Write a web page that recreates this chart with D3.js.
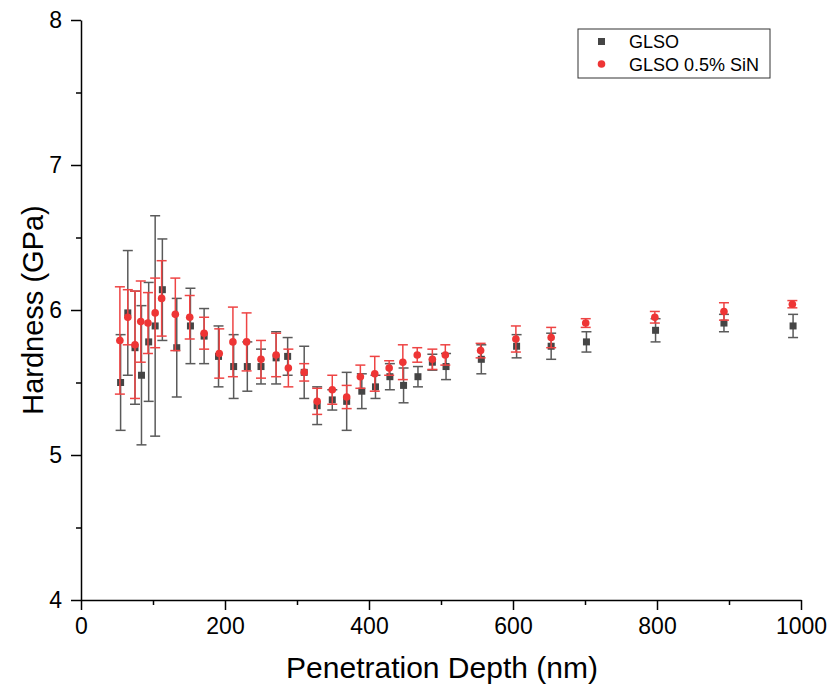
<!DOCTYPE html>
<html>
<head>
<meta charset="utf-8">
<script src="https://cdn.jsdelivr.net/npm/d3@7"></script>
<style>
  body { margin: 0; background: #fff; }
  text { font-family: "Liberation Sans", Arial, sans-serif; }
</style>
</head>
<body>
<div id="chart"></div>
<script>
// GLSO
const glsoDepth = [55, 65, 75, 84, 94, 103, 113, 133, 152, 171, 191, 212, 231, 250, 271, 287, 310, 328, 349, 369, 390, 409, 429, 448, 468, 488, 507, 556, 605, 653, 702, 798, 893, 989];
const glsoHard  = [5.50, 5.98, 5.74, 5.55, 5.78, 5.89, 6.14, 5.74, 5.89, 5.82, 5.68, 5.61, 5.61, 5.61, 5.67, 5.68, 5.57, 5.34, 5.38, 5.37, 5.44, 5.47, 5.54, 5.48, 5.54, 5.64, 5.61, 5.66, 5.75, 5.75, 5.78, 5.86, 5.91, 5.89];
const glsoErr   = [0.33, 0.43, 0.39, 0.48, 0.41, 0.76, 0.35, 0.34, 0.26, 0.19, 0.21, 0.22, 0.17, 0.12, 0.18, 0.13, 0.18, 0.13, 0.07, 0.20, 0.12, 0.08, 0.09, 0.12, 0.07, 0.055, 0.09, 0.10, 0.08, 0.09, 0.07, 0.08, 0.06, 0.08];

// GLSO 0.5% SiN
const sinDepth = [54, 65, 75, 83, 93, 103, 112, 131, 151, 171, 192, 211, 230, 250, 271, 288, 310, 328, 349, 369, 388, 408, 428, 447, 467, 488, 506, 555, 604, 653, 701, 797, 893, 988];
const sinHard  = [5.79, 5.95, 5.76, 5.92, 5.91, 5.98, 6.08, 5.97, 5.95, 5.84, 5.70, 5.78, 5.78, 5.66, 5.69, 5.60, 5.57, 5.37, 5.45, 5.40, 5.54, 5.56, 5.60, 5.64, 5.69, 5.66, 5.69, 5.72, 5.80, 5.81, 5.91, 5.95, 5.99, 6.04];
const sinErr   = [0.37, 0.19, 0.37, 0.28, 0.21, 0.24, 0.26, 0.25, 0.15, 0.11, 0.17, 0.24, 0.20, 0.13, 0.15, 0.13, 0.06, 0.09, 0.10, 0.08, 0.08, 0.12, 0.05, 0.12, 0.05, 0.07, 0.07, 0.05, 0.09, 0.07, 0.03, 0.04, 0.06, 0.025];

const xTicks = [0, 200, 400, 600, 800, 1000];
const yTicks = [4, 5, 6, 7, 8];

const width = 830, height = 696;
const margin = {top: 20, right: 29, bottom: 96, left: 81};
const innerW = width - margin.left - margin.right,
      innerH = height - margin.top - margin.bottom;

const svg = d3.select("#chart").append("svg")
  .attr("width", width).attr("height", height);

const g = svg.append("g").attr("transform", `translate(${margin.left},${margin.top})`);

const x = d3.scaleLinear().domain([0, 1000]).range([0, innerW]);
const y = d3.scaleLinear().domain([4, 8]).range([innerH, 0]);

// minor ticks
g.append("g").attr("transform", `translate(0,${innerH})`)
  .call(d3.axisBottom(x).tickValues(d3.range(100, 1000, 200)).tickSize(5).tickFormat(""))
  .call(a => a.select(".domain").remove())
  .selectAll("line").attr("stroke-width", 1.5);
g.append("g")
  .call(d3.axisLeft(y).tickValues([4.5, 5.5, 6.5, 7.5]).tickSize(5).tickFormat(""))
  .call(a => a.select(".domain").remove())
  .selectAll("line").attr("stroke-width", 1.5);

const xAxis = g.append("g").attr("transform", `translate(0,${innerH})`)
  .call(d3.axisBottom(x).tickValues(xTicks).tickFormat(d3.format("d"))
    .tickSize(10).tickSizeOuter(0).tickPadding(8));
const yAxis = g.append("g")
  .call(d3.axisLeft(y).tickValues(yTicks).tickFormat(d3.format("d"))
    .tickSize(10).tickSizeOuter(0).tickPadding(9));

[xAxis, yAxis].forEach(a => {
  a.select(".domain").attr("stroke-width", 1.5);
  a.selectAll("line").attr("stroke-width", 1.5);
  a.selectAll("text").attr("font-size", 23).attr("fill", "#000")
    .style("font-family", "'Liberation Sans', Arial, sans-serif");
});

function drawSeries(depth, hard, err, color, barColor, shape) {
  const data = depth.map((d, i) => ({x: d, y: hard[i], e: err[i]}));
  const s = g.append("g");
  const bars = s.selectAll("g.err").data(data).enter().append("g")
    .attr("stroke", barColor).attr("stroke-width", 1.5);
  bars.append("line")
    .attr("x1", d => x(d.x)).attr("x2", d => x(d.x))
    .attr("y1", d => y(d.y + d.e)).attr("y2", d => y(d.y - d.e));
  bars.append("line")
    .attr("x1", d => x(d.x) - 5).attr("x2", d => x(d.x) + 5)
    .attr("y1", d => y(d.y + d.e)).attr("y2", d => y(d.y + d.e));
  bars.append("line")
    .attr("x1", d => x(d.x) - 5).attr("x2", d => x(d.x) + 5)
    .attr("y1", d => y(d.y - d.e)).attr("y2", d => y(d.y - d.e));
  if (shape === "square") {
    s.selectAll("rect").data(data).enter().append("rect")
      .attr("x", d => x(d.x) - 3.5).attr("y", d => y(d.y) - 3.5)
      .attr("width", 7).attr("height", 7).attr("fill", color);
  } else {
    s.selectAll("circle").data(data).enter().append("circle")
      .attr("cx", d => x(d.x)).attr("cy", d => y(d.y))
      .attr("r", 3.8).attr("fill", color);
  }
}

drawSeries(glsoDepth, glsoHard, glsoErr, "#454545", "#5a5a5a", "square");
drawSeries(sinDepth, sinHard, sinErr, "#ee3535", "#ee4444", "circle");

// axis titles
svg.append("text")
  .attr("x", margin.left + innerW / 2 + 1).attr("y", 678)
  .attr("text-anchor", "middle").attr("font-size", 30)
  .text("Penetration Depth (nm)");
svg.append("text")
  .attr("transform", `translate(43,${margin.top + innerH / 2})rotate(-90)`)
  .attr("text-anchor", "middle").attr("font-size", 29)
  .text("Hardness (GPa)");

// legend
const leg = svg.append("g").attr("transform", "translate(578,29)");
leg.append("rect").attr("width", 192).attr("height", 49)
  .attr("fill", "#fff").attr("stroke", "#333").attr("stroke-width", 1);
leg.append("rect").attr("x", 20).attr("y", 9).attr("width", 7).attr("height", 7).attr("fill", "#454545");
leg.append("circle").attr("cx", 23.5).attr("cy", 35).attr("r", 3.8).attr("fill", "#ee3535");
leg.append("text").attr("x", 51).attr("y", 19).attr("font-size", 18).text("GLSO");
leg.append("text").attr("x", 51).attr("y", 42).attr("font-size", 18).text("GLSO 0.5% SiN");
</script>
</body>
</html>
